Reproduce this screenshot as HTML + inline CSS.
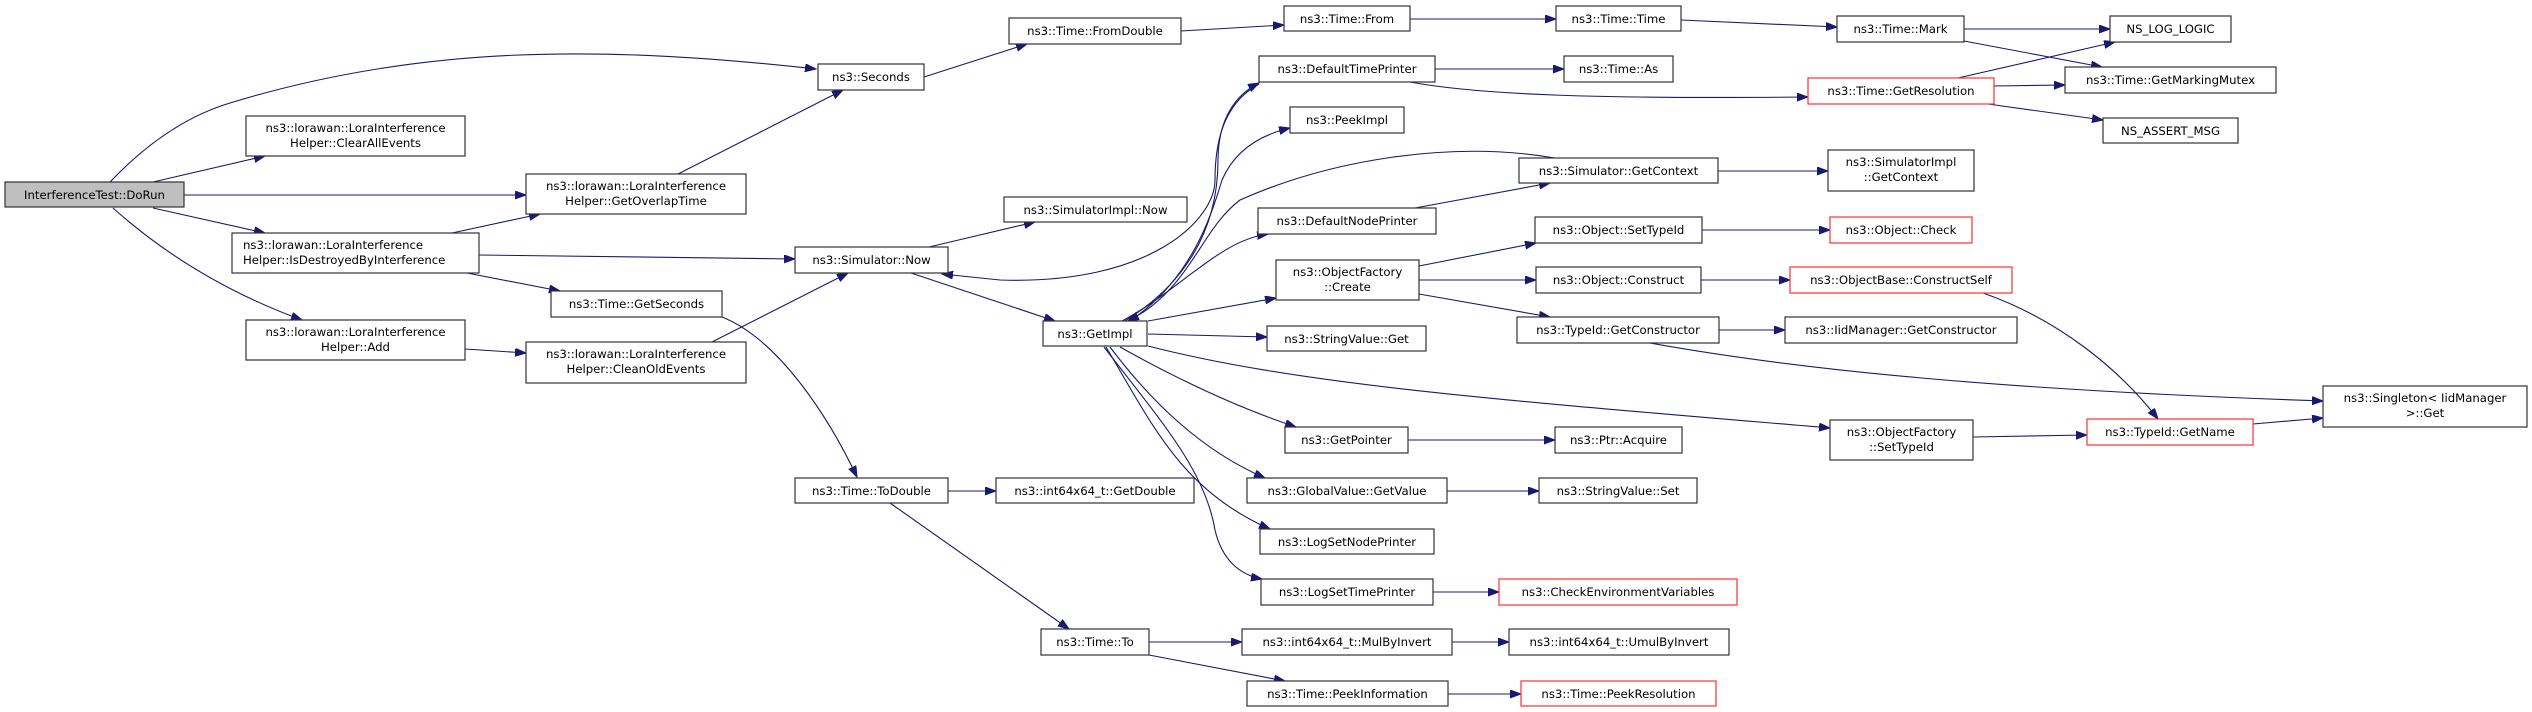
<!DOCTYPE html>
<html><head><meta charset="utf-8"><style>
html,body{margin:0;padding:0;background:#fff;}
svg{display:block;}
text{font-family:"DejaVu Sans","Liberation Sans",sans-serif;font-size:11.7px;fill:#000;text-anchor:middle;}
.b{fill:#fff;stroke:#333;stroke-width:1.2;}
.r{fill:#fff;stroke:#ff3030;stroke-width:1.2;}
.e{fill:none;stroke:#191970;stroke-width:1.1;marker-end:url(#a);}
</style></head><body>
<svg width="2532" height="712" viewBox="0 0 2532 712" xmlns="http://www.w3.org/2000/svg">
<defs><marker id="a" markerUnits="userSpaceOnUse" markerWidth="12" markerHeight="9" refX="11" refY="4" orient="auto"><path d="M0,0 L11,4 L0,8 z" fill="#191970" stroke="#191970"/></marker></defs>

<!-- edges -->
<path class="e" d="M110,182 C150,140 190,115 230,103 C420,45 600,45 816,69"/>
<path class="e" d="M153,182 L265,156"/>
<path class="e" d="M184,195 L526,195"/>
<path class="e" d="M153,208 L265,233"/>
<path class="e" d="M113,208 C160,250 220,290 302,320"/>
<path class="e" d="M678,174 L843,90"/>
<path class="e" d="M452,233 L540,214"/>
<path class="e" d="M479,255 L795,259"/>
<path class="e" d="M467,273 L560,291"/>
<path class="e" d="M465,349 L526,353"/>
<path class="e" d="M712,342 L848,273"/>
<path class="e" d="M722,317 C780,340 830,420 857,477"/>
<path class="e" d="M924,77 L1027,44"/>
<path class="e" d="M1181,31 L1284,25"/>
<path class="e" d="M1410,19 L1556,19"/>
<path class="e" d="M1681,20 L1837,27"/>
<path class="e" d="M1964,29 L2110,29"/>
<path class="e" d="M1964,41 L2102,67"/>
<path class="e" d="M1958,78 L2115,42"/>
<path class="e" d="M1994,86 L2065,85"/>
<path class="e" d="M1988,104 L2103,120"/>
<path class="e" d="M1435,69 L1564,69"/>
<path class="e" d="M1410,82 C1480,95 1600,99 1808,97"/>
<path class="e" d="M929,247 L1035,222"/>
<path class="e" d="M911,273 L1055,321"/>
<path class="e" d="M1125,321 C1175,290 1218,240 1218,160 C1218,120 1235,95 1259,83"/>
<path class="e" d="M1259,84 C1230,100 1215,130 1215,180 C1215,220 1150,285 1000,280 L942,274"/>
<path class="e" d="M1130,321 C1190,280 1210,220 1222,180 C1235,150 1260,135 1290,128"/>
<path class="e" d="M1555,158 C1450,140 1330,160 1240,200 C1200,230 1190,290 1128,321"/>
<path class="e" d="M1122,321 C1180,290 1220,240 1268,234"/>
<path class="e" d="M1415,208 L1550,183"/>
<path class="e" d="M1148,321 L1276,298"/>
<path class="e" d="M1148,334 L1267,337"/>
<path class="e" d="M1148,346 C1300,385 1500,400 1830,428"/>
<path class="e" d="M1120,347 C1170,375 1230,405 1296,427"/>
<path class="e" d="M1110,347 C1150,400 1200,450 1265,478"/>
<path class="e" d="M1106,347 C1150,420 1180,490 1270,529"/>
<path class="e" d="M1104,347 C1160,420 1205,470 1215,530 C1222,560 1240,575 1262,579"/>
<path class="e" d="M1419,266 L1536,243"/>
<path class="e" d="M1419,280 L1536,280"/>
<path class="e" d="M1419,294 L1550,317"/>
<path class="e" d="M1718,171 L1828,171"/>
<path class="e" d="M1702,230 L1830,230"/>
<path class="e" d="M1701,280 L1790,280"/>
<path class="e" d="M1719,330 L1785,330"/>
<path class="e" d="M1650,343 C1800,370 2000,390 2323,401"/>
<path class="e" d="M1983,293 C2060,320 2120,370 2158,419"/>
<path class="e" d="M1973,437 L2087,435"/>
<path class="e" d="M2253,424 L2323,418"/>
<path class="e" d="M1408,440 L1555,440"/>
<path class="e" d="M1447,491 L1539,491"/>
<path class="e" d="M1433,592 L1499,592"/>
<path class="e" d="M948,491 L996,491"/>
<path class="e" d="M890,503 L1069,629"/>
<path class="e" d="M1149,642 L1242,642"/>
<path class="e" d="M1452,642 L1509,642"/>
<path class="e" d="M1149,655 L1285,681"/>
<path class="e" d="M1448,694 L1521,694"/>

<!-- nodes -->
<rect x="5" y="182" width="179" height="25" fill="#bfbfbf" stroke="#333" stroke-width="1.2"/><text x="94.5" y="199">InterferenceTest::DoRun</text>
<rect class="b" x="246" y="116" width="219" height="40"/><text x="355.5" y="132">ns3::lorawan::LoraInterference</text><text x="355.5" y="147">Helper::ClearAllEvents</text>
<rect class="b" x="526" y="174" width="220" height="40"/><text x="636" y="190">ns3::lorawan::LoraInterference</text><text x="636" y="205">Helper::GetOverlapTime</text>
<rect class="b" x="232" y="233" width="247" height="40"/><text x="342" y="249" style="text-anchor:start" x-dummy="">&#8203;</text><text x="243" y="249" style="text-anchor:start">ns3::lorawan::LoraInterference</text><text x="243" y="264" style="text-anchor:start">Helper::IsDestroyedByInterference</text>
<rect class="b" x="551" y="291" width="171" height="26"/><text x="636.5" y="308">ns3::Time::GetSeconds</text>
<rect class="b" x="246" y="320" width="219" height="40"/><text x="355.5" y="336">ns3::lorawan::LoraInterference</text><text x="355.5" y="351">Helper::Add</text>
<rect class="b" x="526" y="342" width="220" height="41"/><text x="636" y="358">ns3::lorawan::LoraInterference</text><text x="636" y="373">Helper::CleanOldEvents</text>
<rect class="b" x="818" y="64" width="106" height="26"/><text x="871" y="81">ns3::Seconds</text>
<rect class="b" x="795" y="247" width="153" height="26"/><text x="871.5" y="264">ns3::Simulator::Now</text>
<rect class="b" x="795" y="478" width="153" height="25"/><text x="871.5" y="495">ns3::Time::ToDouble</text>
<rect class="b" x="1009" y="18" width="172" height="26"/><text x="1095" y="35">ns3::Time::FromDouble</text>
<rect class="b" x="1284" y="6" width="126" height="25"/><text x="1347" y="23">ns3::Time::From</text>
<rect class="b" x="1556" y="6" width="125" height="25"/><text x="1618.5" y="23">ns3::Time::Time</text>
<rect class="b" x="1259" y="56" width="176" height="26"/><text x="1347" y="73">ns3::DefaultTimePrinter</text>
<rect class="b" x="1564" y="56" width="109" height="26"/><text x="1618.5" y="73">ns3::Time::As</text>
<rect class="b" x="1290" y="107" width="114" height="26"/><text x="1347" y="124">ns3::PeekImpl</text>
<rect class="b" x="1519" y="158" width="199" height="25"/><text x="1618.5" y="175">ns3::Simulator::GetContext</text>
<rect class="b" x="1004" y="197" width="183" height="25"/><text x="1095.5" y="214">ns3::SimulatorImpl::Now</text>
<rect class="b" x="1258" y="208" width="178" height="26"/><text x="1347" y="225">ns3::DefaultNodePrinter</text>
<rect class="b" x="1535" y="217" width="167" height="26"/><text x="1618.5" y="234">ns3::Object::SetTypeId</text>
<rect class="b" x="1276" y="260" width="143" height="40"/><text x="1347.5" y="276">ns3::ObjectFactory</text><text x="1347.5" y="291">::Create</text>
<rect class="b" x="1536" y="267" width="165" height="26"/><text x="1618.5" y="284">ns3::Object::Construct</text>
<rect class="b" x="1517" y="317" width="202" height="26"/><text x="1618" y="334">ns3::TypeId::GetConstructor</text>
<rect class="b" x="1043" y="321" width="104" height="25"/><text x="1095" y="338">ns3::GetImpl</text>
<rect class="b" x="1267" y="326" width="159" height="25"/><text x="1346.5" y="343">ns3::StringValue::Get</text>
<rect class="b" x="1285" y="427" width="123" height="26"/><text x="1346.5" y="444">ns3::GetPointer</text>
<rect class="b" x="1555" y="427" width="127" height="26"/><text x="1618.5" y="444">ns3::Ptr::Acquire</text>
<rect class="b" x="1247" y="478" width="200" height="25"/><text x="1347" y="495">ns3::GlobalValue::GetValue</text>
<rect class="b" x="1539" y="478" width="158" height="25"/><text x="1618" y="495">ns3::StringValue::Set</text>
<rect class="b" x="1260" y="529" width="174" height="25"/><text x="1347" y="546">ns3::LogSetNodePrinter</text>
<rect class="b" x="1261" y="579" width="172" height="26"/><text x="1347" y="596">ns3::LogSetTimePrinter</text>
<rect class="r" x="1499" y="579" width="238" height="26"/><text x="1618" y="596">ns3::CheckEnvironmentVariables</text>
<rect class="b" x="1041" y="629" width="108" height="26"/><text x="1095" y="646">ns3::Time::To</text>
<rect class="b" x="1242" y="629" width="210" height="26"/><text x="1347" y="646">ns3::int64x64_t::MulByInvert</text>
<rect class="b" x="1509" y="629" width="220" height="26"/><text x="1619" y="646">ns3::int64x64_t::UmulByInvert</text>
<rect class="b" x="1247" y="681" width="201" height="25"/><text x="1347.5" y="698">ns3::Time::PeekInformation</text>
<rect class="r" x="1521" y="681" width="195" height="25"/><text x="1618.5" y="698">ns3::Time::PeekResolution</text>
<rect class="b" x="996" y="478" width="198" height="25"/><text x="1095" y="495">ns3::int64x64_t::GetDouble</text>
<rect class="b" x="1837" y="16" width="127" height="26"/><text x="1900.5" y="33">ns3::Time::Mark</text>
<rect class="b" x="2110" y="16" width="121" height="26"/><text x="2170.5" y="33">NS_LOG_LOGIC</text>
<rect class="b" x="2065" y="67" width="211" height="26"/><text x="2170.5" y="84">ns3::Time::GetMarkingMutex</text>
<rect class="r" x="1808" y="78" width="186" height="26"/><text x="1901" y="95">ns3::Time::GetResolution</text>
<rect class="b" x="2103" y="118" width="135" height="25"/><text x="2170.5" y="135">NS_ASSERT_MSG</text>
<rect class="b" x="1828" y="150" width="146" height="41"/><text x="1901" y="166">ns3::SimulatorImpl</text><text x="1901" y="181">::GetContext</text>
<rect class="r" x="1830" y="217" width="142" height="26"/><text x="1901" y="234">ns3::Object::Check</text>
<rect class="r" x="1790" y="267" width="222" height="26"/><text x="1901" y="284">ns3::ObjectBase::ConstructSelf</text>
<rect class="b" x="1785" y="317" width="232" height="26"/><text x="1901" y="334">ns3::IidManager::GetConstructor</text>
<rect class="b" x="2323" y="386" width="204" height="41"/><text x="2425" y="402">ns3::Singleton&lt; IidManager</text><text x="2425" y="417">&gt;::Get</text>
<rect class="b" x="1830" y="420" width="143" height="40"/><text x="1901.5" y="436">ns3::ObjectFactory</text><text x="1901.5" y="451">::SetTypeId</text>
<rect class="r" x="2087" y="419" width="166" height="26"/><text x="2170" y="436">ns3::TypeId::GetName</text>
</svg>
</body></html>
